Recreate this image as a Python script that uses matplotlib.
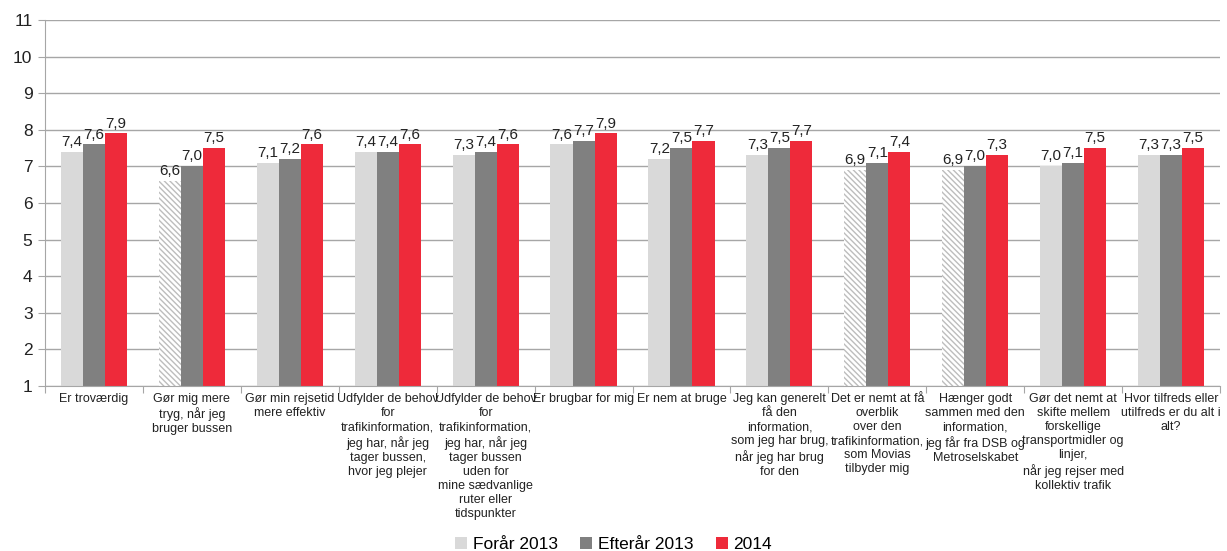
import numpy as np
import matplotlib.pyplot as plt
from matplotlib.patches import Patch

plt.rcParams['font.family'] = ['Liberation Sans', 'DejaVu Sans']
plt.rcParams['hatch.linewidth'] = 1.0

categories = [
    "Er troværdig",
    "Gør mig mere\ntryg, når jeg\nbruger bussen",
    "Gør min rejsetid\nmere effektiv",
    "Udfylder de behov\nfor\ntrafikinformation,\njeg har, når jeg\ntager bussen,\nhvor jeg plejer",
    "Udfylder de behov\nfor\ntrafikinformation,\njeg har, når jeg\ntager bussen\nuden for\nmine sædvanlige\nruter eller\ntidspunkter",
    "Er brugbar for mig",
    "Er nem at bruge",
    "Jeg kan generelt\nfå den\ninformation,\nsom jeg har brug,\nnår jeg har brug\nfor den",
    "Det er nemt at få\noverblik\nover den\ntrafikinformation,\nsom Movias\ntilbyder mig",
    "Hænger godt\nsammen med den\ninformation,\njeg får fra DSB og\nMetroselskabet",
    "Gør det nemt at\nskifte mellem\nforskellige\ntransportmidler og\nlinjer,\nnår jeg rejser med\nkollektiv trafik",
    "Hvor tilfreds eller\nutilfreds er du alt i\nalt?",
]
series_names = ["Forår 2013", "Efterår 2013", "2014"]
foraar_2013 = [7.4, 6.6, 7.1, 7.4, 7.3, 7.6, 7.2, 7.3, 6.9, 6.9, 7.0, 7.3]
efteraar_2013 = [7.6, 7.0, 7.2, 7.4, 7.4, 7.7, 7.5, 7.5, 7.1, 7.0, 7.1, 7.3]
aar_2014 = [7.9, 7.5, 7.6, 7.6, 7.6, 7.9, 7.7, 7.7, 7.4, 7.3, 7.5, 7.5]
# first-series bars drawn hatched in the original (low base)
hatched = [False, True, False, False, False, False, False, False, True, True, False, False]

colors = ["#D9D9D9", "#808080", "#EE2A3A"]
grid_col = "#A6A6A6"

fig = plt.figure(figsize=(12.27, 5.51), dpi=100)
ax = fig.add_axes([45 / 1227, 1 - 386 / 551, 1175 / 1227, 366 / 551])

x = np.arange(len(categories))
w = 0.225
base = 1
for i, (vals, col) in enumerate(zip([foraar_2013, efteraar_2013, aar_2014], colors)):
    pos = x + (i - 1) * w
    for j, v in enumerate(vals):
        if i == 0 and hatched[j]:
            ax.bar(pos[j], v - base, w, bottom=base, color="white", edgecolor="#BDBDBD",
                   hatch="\\\\\\\\\\\\", linewidth=0, zorder=2)
        else:
            ax.bar(pos[j], v - base, w, bottom=base, color=col, linewidth=0, zorder=2)
        ax.text(pos[j], v + 0.08, f"{v:.1f}".replace(".", ","), ha="center", va="bottom",
                fontsize=11, color="#222222")

ax.set_ylim(1, 11)
ax.set_xlim(-0.5, len(categories) - 0.5)
ax.set_yticks(range(1, 12))
ax.tick_params(axis="y", labelsize=12.5, length=5, color=grid_col, pad=4, labelcolor="#222222")
ax.yaxis.grid(True, color=grid_col, linewidth=1, zorder=0)
ax.set_axisbelow(True)

ax.set_xticks(np.arange(len(categories) + 1) - 0.5)
ax.set_xticklabels([])
ax.tick_params(axis="x", length=5, color=grid_col)
for xi, lab in zip(x, categories):
    ax.text(xi, 0.81, lab, ha="center", va="top", fontsize=9, linespacing=1.23,
            color="#222222")

for s in ["top", "right"]:
    ax.spines[s].set_visible(False)
for s in ["left", "bottom"]:
    ax.spines[s].set_color(grid_col)

handles = [Patch(facecolor=c, edgecolor="none") for c in colors]
fig.legend(handles, series_names, loc="lower center", bbox_to_anchor=(0.5, -0.03), ncol=3,
           frameon=False, fontsize=12.5, handlelength=0.7, handleheight=0.7,
           handletextpad=0.3, columnspacing=1.3)

fig.savefig("out.png", dpi=100)
